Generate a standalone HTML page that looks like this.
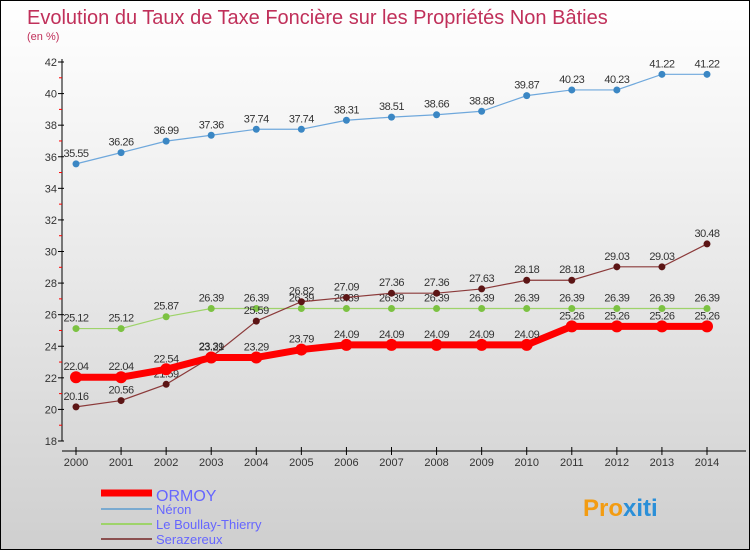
<!DOCTYPE html>
<html><head><meta charset="utf-8"><style>
body{margin:0}
#c{width:750px;height:550px;position:relative;box-sizing:border-box;border:1px solid #000;background:linear-gradient(#fff,#f2f2f2 30%,#cfcfcf);font-family:"Liberation Sans",sans-serif;overflow:hidden}
</style></head><body>
<div id="c">
<svg id="s" width="750" height="550" style="position:absolute;left:0;top:0"></svg>
</div>
<script>
const years=[2000,2001,2002,2003,2004,2005,2006,2007,2008,2009,2010,2011,2012,2013,2014];
const ormoy=[22.04,22.04,22.54,23.29,23.29,23.79,24.09,24.09,24.09,24.09,24.09,25.26,25.26,25.26,25.26];
const neron=[35.55,36.26,36.99,37.36,37.74,37.74,38.31,38.51,38.66,38.88,39.87,40.23,40.23,41.22,41.22];
const boullay=[25.12,25.12,25.87,26.39,26.39,26.39,26.39,26.39,26.39,26.39,26.39,26.39,26.39,26.39,26.39];
const seraz=[20.16,20.56,21.59,23.31,25.59,26.82,27.09,27.36,27.36,27.63,28.18,28.18,29.03,29.03,30.48];
const yTicks=[18,20,22,24,26,28,30,32,34,36,38,40,42];
const s=document.getElementById('s');const NS='http://www.w3.org/2000/svg';
function X(i){return 75+i*(706-75)/14}
function Y(v){return 440-(v-18)*(440-61)/24}
function el(t,a,txt,p){const e=document.createElementNS(NS,t);for(const k in a)e.setAttribute(k,a[k]);if(txt!==undefined)e.textContent=txt;(p||s).appendChild(e);return e}
let e;
e=el('text',{x:26,y:23,'font-size':20,fill:'#c0305a'},'Evolution du Taux de Taxe Foncière sur les Propriétés Non Bâties');

e=el('text',{x:26,y:39,'font-size':11,fill:'#c0305a'},'(en %)');

e=el('line',{x1:61,y1:58,x2:61,y2:440,stroke:'#000'});

e=el('line',{x1:61,y1:450,x2:745,y2:450,stroke:'#000'});

yTicks.forEach(v=>{
 e=el('line',{x1:57,y1:Y(v),x2:63,y2:Y(v),stroke:'#000'});
 
 if(v<42){e=el('line',{x1:58,y1:Y(v+1),x2:61,y2:Y(v+1),stroke:'#f00'});
 }
 e=el('text',{x:56,y:Y(v)+4,'font-size':11,fill:'#333','text-anchor':'end'},v);
 
});
years.forEach((y,i)=>{
 e=el('line',{x1:X(i),y1:446,x2:X(i),y2:454,stroke:'#000'});
 
 e=el('text',{x:X(i),y:465,'font-size':11,fill:'#333','text-anchor':'middle'},y);
 
});
function series(data,color,w,r,dot,name){
 e=el('polyline',{points:data.map((v,i)=>X(i)+','+Y(v)).join(' '),fill:'none',stroke:color,'stroke-width':w});
 
 data.forEach((v,i)=>{
  e=el('circle',{cx:X(i),cy:Y(v),r:r,fill:dot});
  
  e=el('text',{x:X(i),y:Y(v)-7,'font-size':11,fill:'#333','text-anchor':'middle','letter-spacing':'-0.5'},v.toFixed(2).replace(/0$/,'').replace(/\.$/,''));
  
 });
}
series(neron,'#6fa8dc',1.2,3.5,'#3b87c4','neron');
series(boullay,'#9ed36a',1.2,3.5,'#7cc242','boullay');
series(seraz,'#8b3a3a',1.2,3.5,'#5c1515','serazereux');
series(ormoy,'#f00',7,6,'#f00','ormoy');
const leg=[['ORMOY','#f00',7,16],['Néron','#7aaad0',2,13],['Le Boullay-Thierry','#9ed36a',2,13],['Serazereux','#8b5050',2,13]];
const ly=[493,508,523,538];
leg.forEach((l,i)=>{
 e=el('line',{x1:100,y1:ly[i]-(i?0:1),x2:151,y2:ly[i]-(i?0:1),stroke:l[1],'stroke-width':l[2]});
 
 e=el('text',{x:155,y:ly[i]+(i?5:7),'font-size':l[3],fill:'#6666ff'},l[0]);
 
});
const logo=el('text',{x:582,y:515,'font-size':24,'font-weight':'bold'});


e=el('tspan',{fill:'#f39c12'},'Pro',logo);


e=el('tspan',{fill:'#2a8fd8'},'xiti',logo);


</script>
</body></html>
